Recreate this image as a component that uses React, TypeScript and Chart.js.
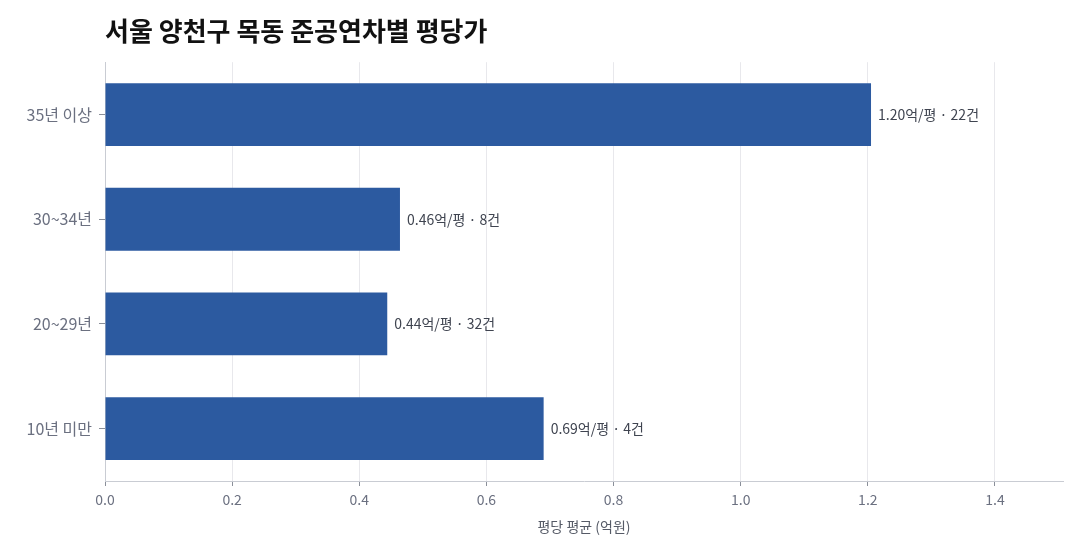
import React, { useEffect, useRef } from 'react';
import { Chart, registerables } from 'chart.js';
import type { Plugin } from 'chart.js';

Chart.register(...registerables);

const categories = ['35년 이상', '30~34년', '20~29년', '10년 미만'];
const pricePerPyeong = [1.205, 0.464, 0.444, 0.69];
const priceLabels = ['1.20', '0.46', '0.44', '0.69'];
const dealCounts = [22, 8, 32, 4];

const FONT = "'Noto Sans CJK KR', 'Noto Sans', sans-serif";

// draws "x.xx억/평 · n건" to the right of each bar
const barLabelPlugin: Plugin<'bar'> = {
    id: 'barLabels',
    afterDatasetsDraw(chart) {
        const ctx = chart.ctx;
        const meta = chart.getDatasetMeta(0);
        ctx.save();
        ctx.font = `14px ${FONT}`;
        ctx.fillStyle = '#3f4450';
        ctx.textAlign = 'left';
        ctx.textBaseline = 'middle';
        meta.data.forEach((bar, i) => {
            const { x, y } = bar.getProps(['x', 'y'], true);
            ctx.fillText(`${priceLabels[i]}억/평 · ${dealCounts[i]}건`, x + 7, y);
        });
        ctx.restore();
    },
};

const App: React.FC = () => {
    const chartRef = useRef<HTMLCanvasElement>(null);

    useEffect(() => {
        if (!chartRef.current) return;
        const ctx = chartRef.current.getContext('2d');
        if (!ctx) return;

        const chart = new Chart(ctx, {
            type: 'bar',
            data: {
                labels: categories,
                datasets: [
                    {
                        label: '평당 평균 (억원)',
                        data: pricePerPyeong,
                        backgroundColor: '#2c5aa0',
                        barPercentage: 0.6,
                        categoryPercentage: 1,
                    },
                ],
            },
            options: {
                indexAxis: 'y',
                animation: false,
                responsive: true,
                maintainAspectRatio: false,
                layout: { padding: { top: 10, right: 17, bottom: 0, left: 10 } },
                scales: {
                    x: {
                        min: 0,
                        max: 1.507,
                        afterFit: (axis) => { axis.height = 71; },
                        grid: { color: '#e8e8ec', tickLength: 5, tickColor: '#8a8f99' },
                        border: { color: '#c9ccd3' },
                        ticks: {
                            stepSize: 0.2,
                            includeBounds: false,
                            color: '#6b7080',
                            padding: 5,
                            font: { family: FONT, size: 14 },
                            callback: (v) => Number(v).toFixed(1),
                        },
                        title: {
                            display: true,
                            text: '평당 평균 (억원)',
                            color: '#555a66',
                            font: { family: FONT, size: 14 },
                            padding: { top: 8, bottom: 17 },
                        },
                    },
                    y: {
                        afterFit: (axis) => { axis.width = 95; },
                        grid: { display: true, offset: false, drawOnChartArea: false, tickLength: 6, tickColor: '#8a8f99' },
                        border: { color: '#c9ccd3' },
                        ticks: {
                            color: '#6b7080',
                            padding: 7,
                            font: { family: FONT, size: 16 },
                        },
                    },
                },
                plugins: {
                    legend: { display: false },
                    tooltip: { enabled: false },
                    title: {
                        display: true,
                        text: '서울 양천구 목동 준공연차별 평당가',
                        align: 'start',
                        fullSize: false,
                        color: '#111111',
                        font: { family: FONT, size: 26, weight: 'bold' },
                        padding: { top: 6, bottom: 15 },
                    },
                },
            },
            plugins: [barLabelPlugin],
        });

        return () => {
            chart.destroy();
        };
    }, []);

    return (
        <div style={{ position: 'absolute', left: 0, top: 0, width: 1080, height: 552, background: '#fff' }}>
            <canvas ref={chartRef}></canvas>
        </div>
    );
};

export default App;
